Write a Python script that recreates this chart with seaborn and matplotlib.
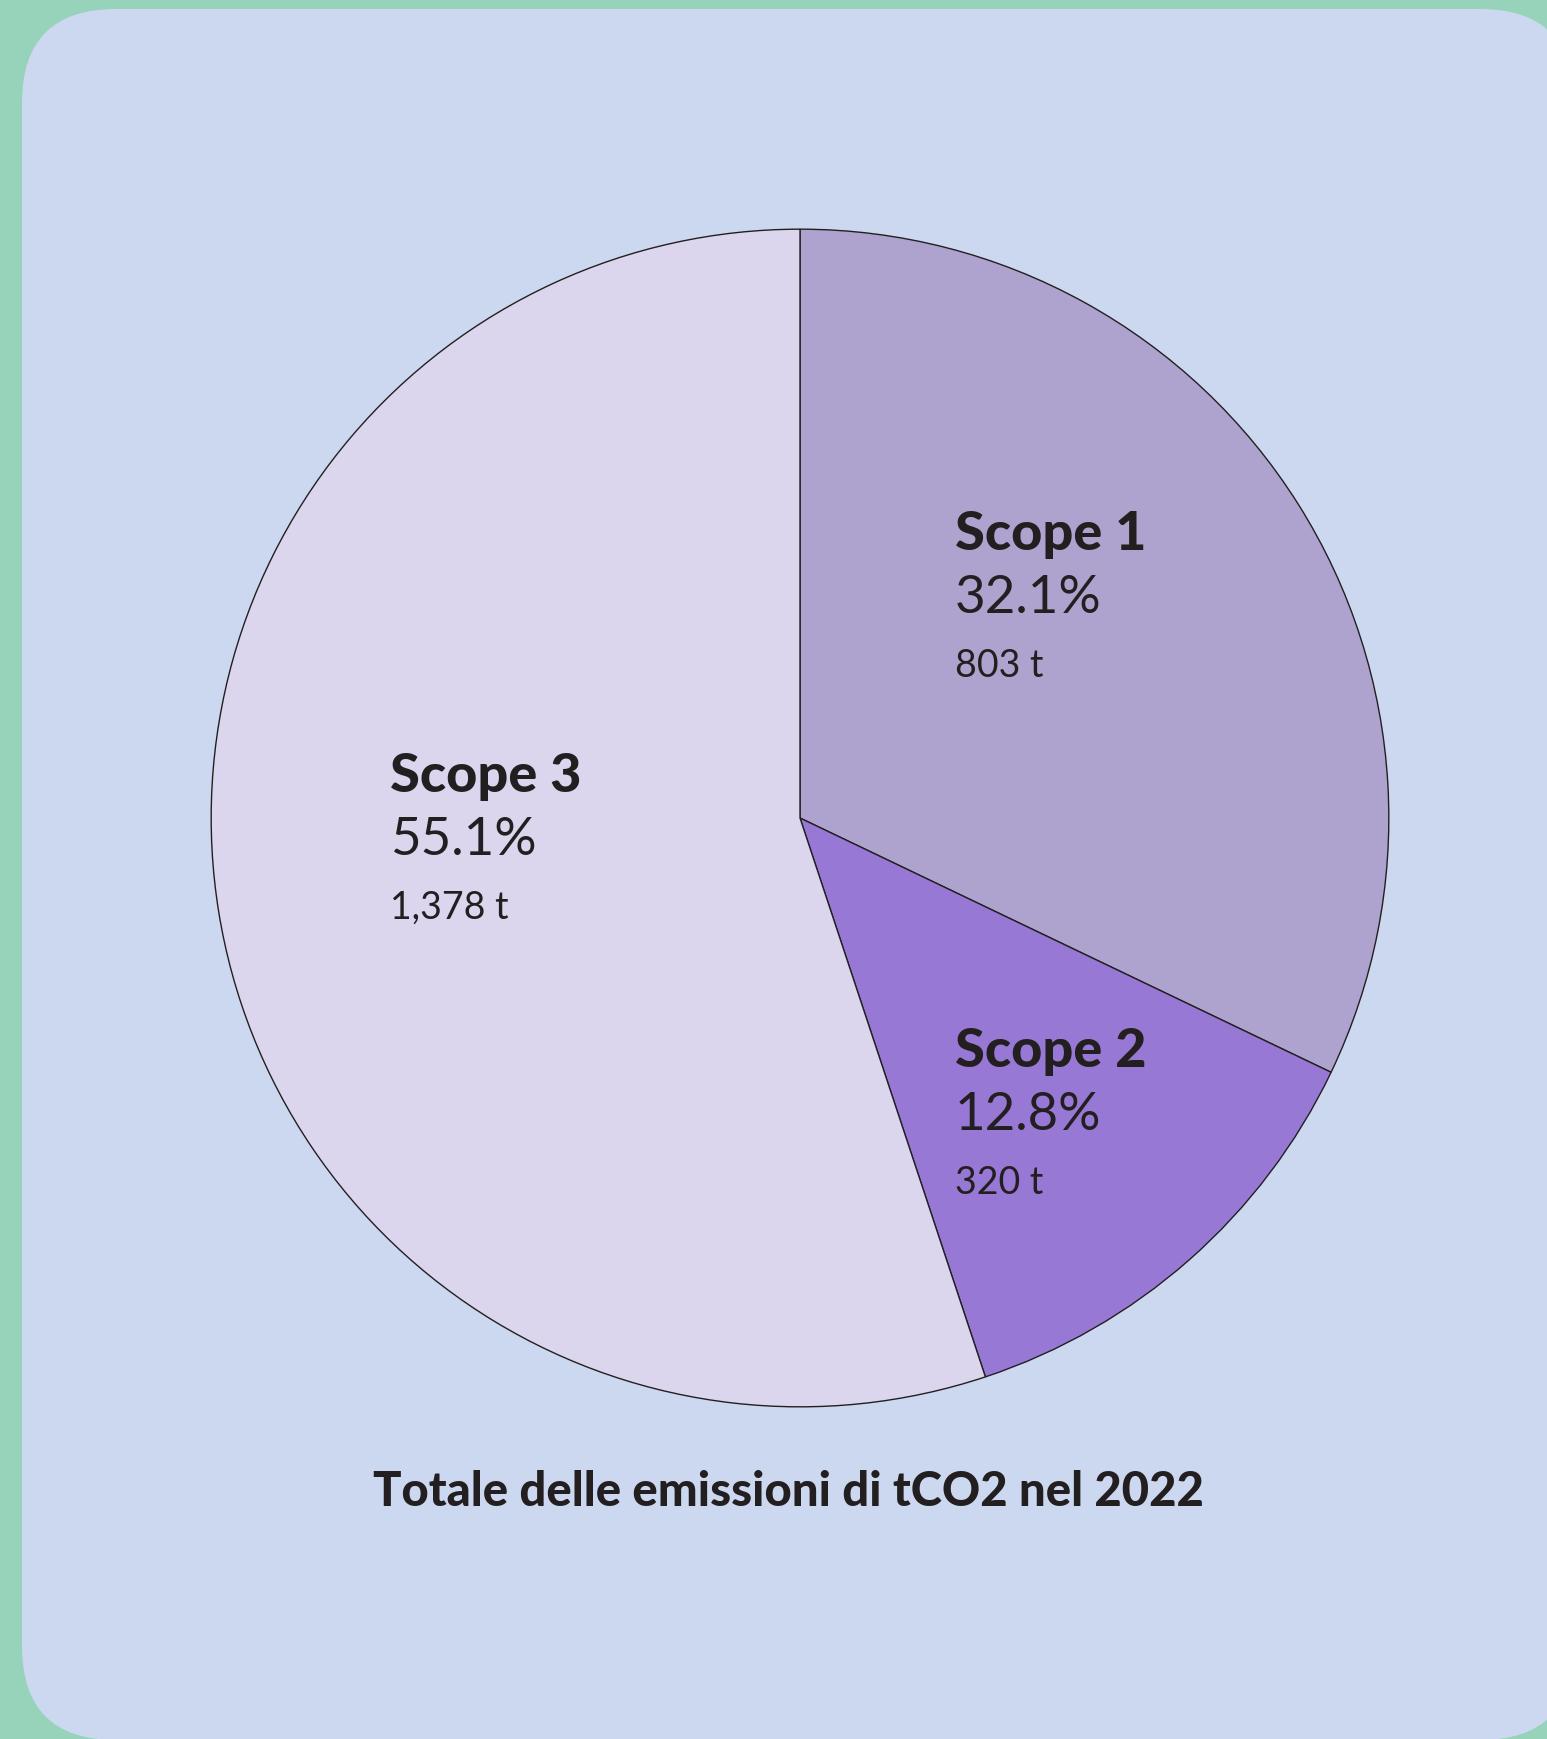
import matplotlib
matplotlib.use('Agg')
import matplotlib.pyplot as plt
import seaborn as sns
from matplotlib.patches import FancyBboxPatch

# ---------------- data ----------------
scopes = ["Scope 1", "Scope 2", "Scope 3"]
tonnes = [803, 320, 1378]
pct_labels = ["32.1%", "12.8%", "55.1%"]
tonne_labels = ["803 t", "320 t", "1,378 t"]
slice_colors = ["#AEA3CE", "#9778D4", "#DBD5ED"]
title = "Totale delle emissioni di tCO2 nel 2022"

# ---------------- style ----------------
sns.set_theme(style="white")
plt.rcParams['font.family'] = ['Lato', 'DejaVu Sans']
TXT = "#231F20"

W, H = 1547, 1739
fig = plt.figure(figsize=(W / 100, H / 100), dpi=100, facecolor="#96D3BA")

# background panel (pixel coordinates)
bg = fig.add_axes([0, 0, 1, 1])
bg.set_xlim(0, W)
bg.set_ylim(H, 0)
bg.axis('off')
panel = FancyBboxPatch((22, 9), 1574 - 22, 1740 - 9,
                       boxstyle="round,pad=0,rounding_size=94",
                       fc="#CCD8F0", ec="none")
bg.add_patch(panel)

# pie axes
cx, cy, r = 800, 818, 590
ax = fig.add_axes([(cx - r) / W, (H - cy - r) / H, 2 * r / W, 2 * r / H])
ax.pie(tonnes, colors=slice_colors, startangle=90, counterclock=False,
       radius=1, wedgeprops=dict(edgecolor=TXT, linewidth=1.0))
ax.set_xlim(-1.002, 1.002)
ax.set_ylim(-1.002, 1.002)
ax.set_aspect('equal')
ax.patch.set_visible(False)
ax.axis('off')

# labels (pixel positions: left x, heading baseline y)
label_pos = {"Scope 1": (955, 550), "Scope 2": (955, 1067), "Scope 3": (390, 792)}
txt_ax = fig.add_axes([0, 0, 1, 1])
txt_ax.set_xlim(0, W)
txt_ax.set_ylim(H, 0)
txt_ax.axis('off')
txt_ax.patch.set_visible(False)
for s, p, t in zip(scopes, pct_labels, tonne_labels):
    x, y = label_pos[s]
    txt_ax.text(x, y, s, fontsize=39, fontweight=900, color=TXT,
                ha='left', va='baseline')
    txt_ax.text(x, y + 63, p, fontsize=38, fontweight='normal', color=TXT,
                ha='left', va='baseline')
    txt_ax.text(x, y + 127, t, fontsize=27, fontweight='normal', color=TXT,
                ha='left', va='baseline')

txt_ax.text(788, 1506, title, fontsize=34, fontweight=900, color=TXT,
            ha='center', va='baseline')

fig.savefig("out.png", dpi=100, facecolor=fig.get_facecolor())
